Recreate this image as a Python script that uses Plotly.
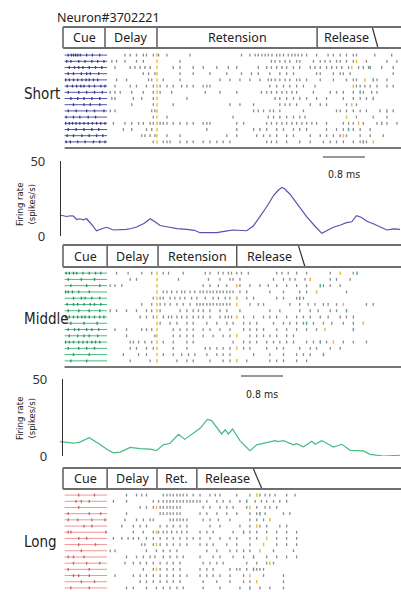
import plotly.graph_objects as go

W, H = 401, 592

# ---------------- data ----------------
short_spikes = [
    [0.10,0.16,0.20,0.24,0.28,0.33,0.45,0.56,0.70, 1.18,1.28,1.40,1.53,1.59,1.72,1.82,1.98,2.42, 3.40,3.56,3.66,3.72,3.79,3.85,3.91,3.98,4.07,4.13,4.20,4.29,4.36,4.42,4.48,4.55,4.64,4.83,5.05,5.15,5.28,5.40,5.53,5.59,5.94,6.26],
    [0.07,0.15,0.30,0.42,0.55,0.66,0.78, 0.93,1.02,1.18,1.40,1.53,2.23, 3.97,4.04,4.13,4.23,4.32,4.45,4.51,4.77,4.90,4.99,5.09,5.21,5.28,5.40,5.53,5.78,6.17,6.36],
    [0.12,0.22,0.30,0.38,0.50,0.62,0.74, 0.99,1.28,1.37,1.47,1.56,1.66,2.10,2.23,2.48, 2.67,2.93,3.15,3.31,3.72,3.88,3.97,4.07,4.17,4.26,4.39,4.51,4.71,4.80,4.90,5.02,5.12,5.21,5.31,5.44,5.63,5.72,5.82,6.07,6.29],
    [0.10,0.20,0.35,0.45,0.52,0.68, 1.53,1.63,1.75,2.23,2.48, 2.80,3.12,3.40,3.59,3.72,3.94,4.13,4.26,4.39,4.83,4.90,5.15,5.28,5.34,5.47,6.29],
    [0.05,0.12,0.20,0.28,0.36,0.44,0.50,0.58,0.66, 1.02,1.21,1.63,1.69,1.91,2.23, 2.99,3.18,3.37,3.56,3.75,3.91,3.97,4.04,4.13,4.23,4.32,4.45,4.51,4.64,4.90,5.15,5.40,5.53,5.59,5.98,6.17],
    [0.08,0.18,0.26,0.34,0.40,0.50,0.60,0.72,0.80, 0.99,1.28,1.40,1.59,1.72,1.85,1.98,2.10,2.26,2.36,2.48, 2.67,2.74,2.80,3.94,4.07,4.20,4.32,4.45,4.58,4.80,5.59,5.66,5.75,5.85,5.98,6.17,6.29],
    [0.10,0.30,0.45,0.60,0.75, 0.90,0.99,1.09,1.31,1.53,1.72,1.85,2.07, 2.71,2.99,3.31,3.78,3.88,3.97,4.07,4.17,4.26,4.36,4.45,4.77,5.09,5.21,5.34,5.53,5.72,5.88,5.98],
    [0.15,0.28,0.40,0.55,0.70, 0.93,0.99,1.34,1.50,1.72,2.36, 4.04,4.13,4.26,4.39,4.51,4.64,4.83,5.02,5.34,5.53,5.66,5.78],
    [0.20,0.40,0.52,0.70, 1.31,1.72,2.10, 3.18,3.37,3.63,4.13,4.23,4.32,4.45,4.71,4.90,5.02,5.40,5.59],
    [0.10,0.25,0.45,0.60,0.78, 0.90,0.99,1.69,1.75, 3.63,3.72,3.82,3.94,4.01,4.13,4.58,5.21,5.28,5.40,5.53,5.66,5.78,6.04,6.29],
    [0.06,0.20,0.32,0.48,0.62, 1.72,1.98, 3.24,3.91,4.01,4.13,4.26,4.39,4.51,4.61,5.59,5.91,6.17],
    [0.05,0.12,0.18,0.25,0.32,0.40,0.48,0.56,0.64,0.72,0.80, 0.96,1.18,1.31,1.44,1.53,1.66,1.72,1.85,1.91,1.98,2.10,2.23,2.36,2.48, 2.67,2.74,2.80,3.31,3.44,3.88,3.97,4.07,4.17,4.26,4.36,4.45,4.55,4.64,4.74,4.83,5.02,5.34,5.44,5.53,5.72,5.98,6.17,6.36],
    [0.10,0.25,0.40,0.55,0.68, 1.15,1.31,1.59,1.69, 2.74,3.31,3.63,3.75,3.88,4.07,4.20,4.39,4.51,4.64,5.02,5.21,5.34,5.53,5.66,5.85],
    [0.08,0.20,0.36,0.50,0.64,0.76, 1.50,1.56,1.66,1.75,1.98,2.23, 3.12,3.31,3.69,3.82,3.94,4.07,4.26,4.39,4.71,4.90,5.02,5.15,5.28,5.40,5.66,5.85,6.10],
    [0.06,0.14,0.28,0.42,0.58,0.70,0.80, 1.72,1.91,1.98,2.04,2.23,2.36,2.48, 2.67,2.80,2.93,3.05,3.18,3.88,3.97,4.07,4.26,4.51,4.71,4.96,5.09,5.21,5.34,5.53,5.66,5.78],
]

middle_spikes = [
    [0.06,0.12,0.20,0.26,0.38,0.50,0.62,0.72, 1.02,1.24,1.50,1.69,1.91,2.01,2.29, 2.71,2.80,2.96,3.05,3.15,3.21,3.31,3.40,3.53,4.07,4.17,4.29,4.45,4.64,5.09,5.53],
    [0.10,0.35,0.60, 1.28,1.40,2.20, 2.77,2.99,3.18,3.24,3.37,4.01,4.20,4.32,4.42,4.61,4.71,5.09,5.21,5.47],
    [0.15,0.45,0.70, 0.90,0.99,1.12, 2.67,2.80,2.96,3.12,3.37,3.56,3.75,3.91,4.07,4.26,4.45,4.64,4.96,5.09,5.28],
    [0.05,0.10,0.18,0.30,0.50, 1.91,1.98,2.07,2.17,2.26,2.32,2.42,2.51, 2.61,2.67,2.74,2.80,2.86,2.93,2.99,3.05,3.12,3.18,3.24,3.37,3.50,3.94,4.20,4.51,4.64,5.40],
    [0.20,0.35,0.42,0.55,0.70, 1.72,1.85,1.91,2.04,2.13,2.23,2.32,2.45,2.55, 2.71,2.86,2.96,3.09,3.18,3.31,3.50,3.63,4.07,4.20,4.45,4.58],
    [0.08,0.20,0.28,0.40,0.52,0.60,0.72, 1.50,1.69,1.85,1.94,2.04,2.17,2.29,2.42,2.55, 2.61,2.67,2.74,2.80,2.86,2.93,2.99,3.05,3.12,3.18,3.56,3.72,3.82,4.32,4.51,4.67,4.80,4.96,5.05,5.21,5.78,5.91],
    [0.10,0.30,0.50,0.70, 0.90,1.02,1.21,1.40,1.59,1.69,1.85,2.23,2.36,2.48,2.58, 2.67,2.80,2.99,3.12,3.37,3.94,4.13,4.51,4.71,4.86,5.09,5.21],
    [0.05,0.12,0.20,0.28,0.36,0.42,0.50,0.60,0.70,0.78, 1.47,1.59,1.72,1.91,2.01,2.07,2.17,2.26,2.36,2.48,2.58, 2.67,2.80,2.99,3.09,3.15,3.21,3.44,3.63,3.82,3.94,4.07,4.26,4.45,4.58,4.71,4.90,5.05,5.28,5.40,5.53],
    [0.15,0.40,0.65, 1.85,2.04,2.17,2.36,2.48, 2.74,2.93,3.12,3.24,3.44,3.56,3.69,4.01,4.20,4.32,4.45,4.58,4.77,4.96,5.12,5.34,5.53],
    [0.10,0.22,0.30,0.45,0.55,0.68, 0.99,1.21,1.50,1.59,1.69,2.10,2.23,2.36,2.48, 2.67,2.80,2.99,3.18,3.44,3.56,3.69,3.82,4.07,4.26,4.45,4.64,4.83],
    [0.12,0.28,0.40,0.50,0.66, 1.21,1.75,2.10,2.23,2.36,2.48, 2.67,2.86,3.05,3.18,3.56,3.69,3.82,3.94,4.07,4.26,4.39],
    [0.05,0.12,0.20,0.30,0.38,0.46,0.55,0.62,0.70, 1.28,1.34,1.44,1.56,1.69,1.91,2.10,2.36,2.48, 3.24,3.44,3.56,3.69,3.88,4.01,4.13,4.26,4.39,4.64,4.77,5.02,5.34,5.53,5.78],
    [0.10,0.30,0.45,0.60, 1.28,1.40,1.59,1.72,2.10,2.36, 2.71,2.80,2.93,3.05,3.18,3.44,3.56,3.88,4.07,4.20,4.51,4.71,4.83,5.09,5.28],
    [0.20,0.50, 1.15,1.44,1.59,1.91,2.10,2.26,2.39,2.51, 2.74,2.93,3.05,3.18,3.63,3.94,4.20,4.45,4.58,4.71],
    [0.15,0.45, 1.28,1.66,2.17,2.36,2.48, 2.80,3.05,3.18,3.50,3.94,4.07,4.20,4.45,4.64],
]

long_spikes = [
    [0.30,0.60, 1.21,1.40,1.50,1.59,1.91,1.98,2.04,2.10,2.17,2.23,2.29,2.36,2.48,2.61, 2.80,2.90,2.99,3.31,3.56,3.75,3.85,3.94,4.04,4.26,4.42],
    [0.25,0.35,0.50, 0.96,1.21,1.72,1.82,1.91,1.98,2.04,2.10,2.17,2.23,2.29,2.36,2.42,2.48,2.55, 2.61,2.74,2.93,3.05,3.18,3.37,3.66,3.78,3.88,4.01,4.13,4.26],
    [0.30, 1.47,1.59,1.72,1.85,1.91,1.98,2.04,2.10,2.17,2.23, 2.67,2.80,2.99,3.12,3.24,3.50,3.69,3.85,3.94,4.07],
    [0.10,0.50,0.72, 1.21,1.85,1.91,1.98,2.04,2.10,2.17,2.23, 2.61,2.74,2.93,3.12,3.31,3.56,3.69,3.85,4.20,4.32],
    [0.10,0.28,0.55,0.80, 1.18,1.40,1.53,1.66,1.72,2.04,2.10,2.17,2.23,2.29,2.36, 2.67,2.80,2.96,3.18,3.56,3.69,3.82],
    [0.40,0.55, 1.12,1.34,1.47,1.59,1.85,1.98,2.10,2.23,2.36, 2.80,2.99,3.37,3.56,3.75,3.88,4.13,4.26],
    [0.10,0.15,0.82, 1.34,1.53,1.72,1.82,1.91,1.98,2.07,2.17,2.26,2.36, 2.61,2.74,2.86,3.24,3.56,3.69,3.88,4.07,4.26,4.45],
    [0.30,0.45, 0.96,1.12,1.24,1.34,1.44,1.59,1.72,1.85,1.98,2.10,2.23,2.36,2.48,2.61, 2.80,2.99,3.18,3.31,3.56,3.69,4.07,4.26,4.45],
    [0.30,0.62, 1.50,1.56,1.72,1.85,1.98,2.10,2.23,2.36, 2.61,2.74,2.86,3.12,3.31,3.56,4.07,4.26,4.45],
    [0.35, 0.90,0.99,1.59,1.78,1.91,2.04,2.17, 2.74,2.93,3.18,3.31,3.44,3.56,4.01,4.39],
    [0.10,0.20,0.40, 1.21,1.40,1.53,1.66,1.75,1.91,2.04,2.17,2.29, 2.61,2.86,2.99,3.24,3.44,3.88,4.07,4.26,4.45],
    [0.20,0.45,0.70, 1.18,1.34,1.47,1.59,1.72,1.85,1.98,2.10,2.23, 2.67,2.80,2.93,3.05,3.50,3.69,3.88,4.01],
    [0.10,0.50, 1.53,1.72,1.85,1.98,2.10,2.23, 2.61,2.74,2.86,3.18,3.31,3.37,3.50,3.69,3.75,3.82],
    [0.20,0.30,0.50, 0.99,1.34,1.47,1.59,1.72,1.85,1.98,2.10,2.23,2.36, 2.61,2.74,2.86,2.99,3.18,3.44,3.82,4.20],
    [0.35,0.60, 1.47,1.59,1.72,1.85,1.98,2.10,2.23, 2.67,2.93,3.18,3.44,3.56,4.20],
    [0.15,0.50, 1.21,1.34,1.59,1.78,1.91,2.04,2.17,2.29, 2.67,2.99,3.37,3.75,3.94,4.20],
]

short_yellow = [[1.79],[1.79,5.59],[1.79,5.50],[1.79],[1.79,5.75],[1.79,5.53],[1.79],[1.79],
                [1.79,5.50],[1.79],[1.79,5.40],[1.79,5.63],[1.79],[1.79,5.34],[1.79,5.91]]
short_teal = [[],[],[5.85],[],[5.91],[],[5.66],[5.91],[],[6.17],[],[6.07],[5.44],[],[5.72]]
middle_yellow = [[1.79,5.28],[1.79,4.71],[1.79,3.31],[1.79,4.83],[1.79,3.31],[1.79,3.31,5.34],[1.79],[1.79,3.31],
                 [1.79,5.72],[1.79,4.99],[1.79,3.31],[1.79,5.15],[1.79,3.31],[1.79],[1.79,3.31]]
middle_teal = [[5.60],[],[4.90],[],[4.51],[],[5.40],[],[4.64],[5.53],[],[4.90],[],[4.96],[]]
long_yellow = [[3.69],[],[1.78,3.56],[],[3.94],[3.69],[1.78],[3.88],[1.78,3.82],[3.75],[],[3.94],[1.78],[3.56],[3.69],[]]
long_teal = [[],[3.50],[],[3.75],[],[],[3.44],[],[],[],[3.63],[],[3.63],[],[],[3.56]]

short_rate_t = [-0.06,0.07,0.14,0.20,0.26,0.32,0.38,0.45,0.55,0.64,0.74,0.83,0.96,1.10,1.21,1.30,1.40,1.55,1.66,1.75,1.85,
                2.00,2.17,2.36,2.50,2.61,2.93,3.10,3.24,3.50,3.62,3.75,3.88,4.01,4.10,4.17,4.22,4.32,4.48,4.64,4.80,4.93,
                5.05,5.15,5.30,5.40,5.50,5.59,5.68,5.78,5.92,6.04,6.17,6.30,6.42]
short_rate = [14.0,13.0,13.5,13.3,11.0,11.5,10.8,11.5,7.5,3.5,4.8,5.8,4.0,4.2,4.4,5.0,6.0,8.5,11.5,9.5,7.0,
              6.0,4.9,4.4,3.8,2.2,2.2,3.2,4.0,3.5,6.5,12.9,19.5,27.0,30.5,32.4,31.5,28.0,20.5,12.9,6.5,1.8,
              4.0,5.8,7.5,8.9,9.5,13.6,12.5,10.0,8.0,6.0,4.0,4.8,4.4]

middle_rate_t = [-0.06,0.08,0.20,0.32,0.50,0.70,0.85,0.96,1.09,1.28,1.47,1.66,1.78,1.91,2.04,2.20,2.32,2.48,2.61,2.75,
                 2.83,3.02,3.09,3.15,3.23,3.37,3.56,3.69,3.88,4.04,4.10,4.20,4.39,4.45,4.58,4.74,4.80,4.93,5.15,
                 5.31,5.47,5.72,5.85,6.10,6.42]
middle_rate = [9.3,8.5,8.3,9.0,11.9,7.6,4.0,2.1,2.5,5.6,4.8,4.5,3.5,7.2,8.3,14.1,10.8,14.7,18.0,23.8,
               23.0,14.3,17.0,14.3,17.5,10.0,3.5,7.2,8.7,10.0,9.3,10.0,7.2,8.0,6.0,9.5,7.6,10.0,5.8,
               7.6,3.7,3.3,1.1,0.0,0.5]

short_epochs = [0.00, 0.80, 1.79, 4.84, 5.89]
short_slant_end = 6.00
middle_epochs = [0.00, 0.84, 1.81, 3.31, 4.48]
middle_slant_end = 4.61
long_epochs = [0.00, 0.84, 1.79, 2.55, 3.62]
long_slant_end = 3.79
short_labels = ["Cue", "Delay", "Retension", "Release"]
middle_labels = ["Cue", "Delay", "Retension", "Release"]
long_labels = ["Cue", "Delay", "Ret.", "Release"]
cue_line = [0.03, 0.84]
rate_ticks = [0, 50]
scale_bar_len = 0.8

# ---------------- layout helpers ----------------
X0, X1 = -1.2, 6.438
def py(p):
    return 1 - p / H

BLUE = "#5454aa"
GREEN = "#46bb82"
RED = "#f29494"
SPIKE = "#8a8a8a"
YEL = "#e8c04a"
TEAL = "#5aaaa6"
FONT = "Noto Sans, Open Sans, sans-serif"
NARROW = "DejaVu Sans Condensed, Liberation Sans Narrow, Noto Sans, sans-serif"

fig = go.Figure()

def raster(spikes, yellow, teal, cue_color, cue_dark, yaxis):
    cx, cy = [], []
    for i, _ in enumerate(spikes):
        cx += [cue_line[0], cue_line[1], None]
        cy += [i, i, None]
    fig.add_trace(go.Scatter(x=cx, y=cy, mode="lines", line=dict(color=cue_color, width=1),
                             yaxis=yaxis, hoverinfo="skip", showlegend=False))
    sx, sy, qx, qy = [], [], [], []
    for i, tr in enumerate(spikes):
        for t in tr:
            if t <= cue_line[1]:
                qx.append(t); qy.append(i)
            else:
                sx.append(t); sy.append(i)
    fig.add_trace(go.Scatter(x=qx, y=qy, mode="markers", yaxis=yaxis, showlegend=False,
                             marker=dict(symbol="line-ns", size=2, line=dict(color=cue_dark, width=1.3))))
    fig.add_trace(go.Scatter(x=sx, y=sy, mode="markers", yaxis=yaxis, showlegend=False,
                             marker=dict(symbol="line-ns", size=2, line=dict(color=SPIKE, width=1.3))))
    for ev, col in ((yellow, YEL), (teal, TEAL)):
        ex, ey = [], []
        for i, tr in enumerate(ev):
            ex += tr
            ey += [i] * len(tr)
        fig.add_trace(go.Scatter(x=ex, y=ey, mode="markers", yaxis=yaxis, showlegend=False,
                                 marker=dict(symbol="line-ns", size=2.5, line=dict(color=col, width=1.5))))

raster(short_spikes, short_yellow, short_teal, BLUE, "#383888", "y")
raster(middle_spikes, middle_yellow, middle_teal, GREEN, "#2f8a60", "y3")
raster(long_spikes, long_yellow, long_teal, RED, "#c06060", "y5")

fig.add_trace(go.Scatter(x=short_rate_t, y=short_rate, mode="lines", yaxis="y2",
                         line=dict(color=BLUE, width=1.2), showlegend=False))
fig.add_trace(go.Scatter(x=middle_rate_t, y=middle_rate, mode="lines", yaxis="y4",
                         line=dict(color=GREEN, width=1.2), showlegend=False))

shapes, annots = [], []

def epoch_box(ep, slant_end, labels, top, bot):
    yt, yb = py(top), py(bot)
    for xx in ep[:-1]:
        shapes.append(dict(type="line", xref="x", yref="paper", x0=xx, x1=xx, y0=yb, y1=yt,
                           line=dict(color="#333", width=1.2)))
    shapes.append(dict(type="line", xref="x", yref="paper", x0=ep[-1], x1=slant_end, y0=yt, y1=yb,
                       line=dict(color="#333", width=1.2)))
    for yy in (yt, yb):
        shapes.append(dict(type="line", xref="x", yref="paper", x0=ep[0], x1=X1, y0=yy, y1=yy,
                           line=dict(color="#6e6e6e", width=2)))
    ends = ep[1:-1] + [(ep[-1] + slant_end) / 2]
    for k, lab in enumerate(labels):
        annots.append(dict(x=(ep[k] + ends[k]) / 2, y=(yt + yb) / 2, xref="x", yref="paper",
                           xanchor="center", yanchor="middle",
                           text=lab, showarrow=False, font=dict(family=FONT, size=12.5, color="#222")))

epoch_box(short_epochs, short_slant_end, short_labels, 27, 48)
epoch_box(middle_epochs, middle_slant_end, middle_labels, 245, 267)
epoch_box(long_epochs, long_slant_end, long_labels, 468, 489)

for yy in (148, 367):
    shapes.append(dict(type="line", xref="x", yref="paper", x0=cue_line[0], x1=X1, y0=py(yy), y1=py(yy),
                       line=dict(color="#777", width=2)))

# scale bars
for xs, ybar, ylab in ((4.95, 157, 174), (3.39, 376, 394)):
    shapes.append(dict(type="line", xref="x", yref="paper", x0=xs, x1=xs + scale_bar_len,
                       y0=py(ybar), y1=py(ybar), line=dict(color="#333", width=1.2)))
    annots.append(dict(x=xs + scale_bar_len / 2, y=py(ylab), xref="x", yref="paper", text="0.8 ms",
                       xanchor="center", yanchor="middle",
                       showarrow=False, font=dict(family=NARROW, size=10.5, color="#222")))

# y titles
for yc in (205, 419):
    annots.append(dict(x=25 / W, y=py(yc), xref="paper", yref="paper", text="Firing rate<br>(spikes/s)",
                       xanchor="center", yanchor="middle", textangle=-90, showarrow=False,
                       font=dict(family=NARROW, size=9.5, color="#222")))

# condition labels
for lab, yc, xl in (("Short", 94, 22), ("Middle", 319, 22), ("Long", 542, 22)):
    annots.append(dict(x=xl / W, y=py(yc), xref="paper", yref="paper", text=lab, xanchor="left",
                       yanchor="middle", showarrow=False, font=dict(family=NARROW, size=15, color="#222")))

annots.append(dict(x=55 / W, y=py(17), xref="paper", yref="paper", text="Neuron#3702221", xanchor="left",
                   yanchor="middle", showarrow=False, font=dict(family=FONT, size=12.5, color="#222")))

rate_axis = dict(range=[0, 50], showline=True, linecolor="#333", linewidth=1.2, ticks="inside",
                 ticklen=4, tickwidth=1.2, tickcolor="#333", tickvals=rate_ticks, showgrid=False,
                 zeroline=False, anchor="free", ticklabelstandoff=12,
                 tickfont=dict(family=FONT, size=13, color="#333"))
raster_axis = dict(visible=False, showgrid=False, zeroline=False)

fig.update_layout(
    width=W, height=H, autosize=False,
    margin=dict(l=0, r=0, t=0, b=0, autoexpand=False),
    paper_bgcolor="white", plot_bgcolor="rgba(0,0,0,0)",
    xaxis=dict(range=[X0, X1], domain=[0, 1], visible=False, showgrid=False, zeroline=False),
    yaxis=dict(domain=[py(145), py(52)], range=[14.5, -0.5], **raster_axis),
    yaxis2=dict(domain=[py(236), py(161)], position=60 / W, **rate_axis),
    yaxis3=dict(domain=[py(364), py(270)], range=[14.5, -0.5], **raster_axis),
    yaxis4=dict(domain=[py(456), py(379)], position=62 / W, **rate_axis),
    yaxis5=dict(domain=[py(591), py(492)], range=[15.5, -0.5], **raster_axis),
    shapes=shapes, annotations=annots,
)

fig.write_html("out.html", config={"displayModeBar": False},
               post_script="document.body.style.margin='0';document.body.style.overflow='hidden';")
